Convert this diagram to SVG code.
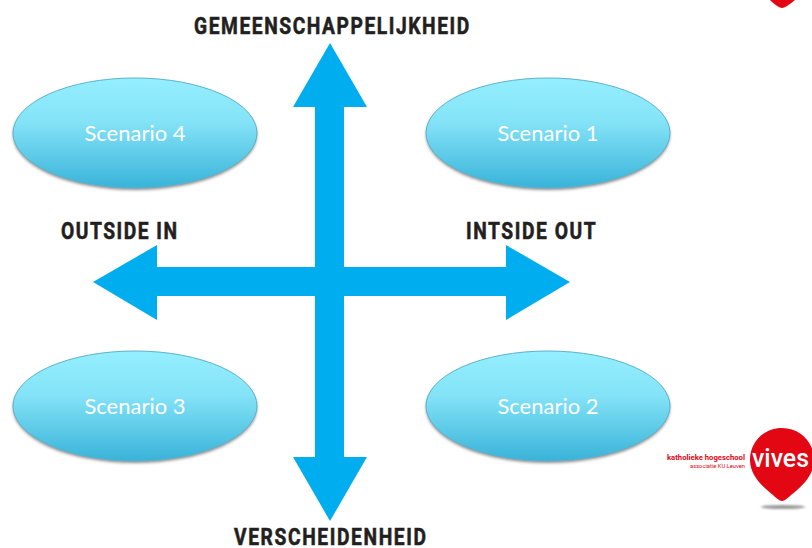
<svg xmlns="http://www.w3.org/2000/svg" width="812" height="548" viewBox="0 0 812 548">
<style>
.axis{font-family:"Roboto","Liberation Sans",sans-serif;font-weight:700;font-size:24px;fill:#231f20;stroke:#231f20;stroke-width:.6}
.sc{font-family:"Lato","Carlito","Open Sans",sans-serif;font-size:22px;fill:#fff;text-anchor:middle}
.oval{fill:url(#g);stroke:#5fb3cc;stroke-width:1}
.shadow{fill:#444;opacity:.6;filter:url(#b)}
.pin{fill:#e30613}
.lg{font-family:"Roboto","Liberation Sans",sans-serif;fill:#e30613;text-anchor:end}
</style>
<defs>
<linearGradient id="g" x1="0" y1="0" x2="0" y2="1">
<stop offset="0" stop-color="#94efff"/>
<stop offset=".4" stop-color="#84e3f7"/>
<stop offset="1" stop-color="#39b3d9"/>
</linearGradient>
<filter id="b" x="-10%" y="-10%" width="120%" height="120%"><feGaussianBlur stdDeviation="1.5"/></filter>
<filter id="b2" x="-30%" y="-200%" width="160%" height="500%"><feGaussianBlur stdDeviation="1.2"/></filter>
</defs>
<rect width="812" height="548" fill="#fff"/>
<g id="connectors" fill="#00aeef">
<polygon id="axis-vertical" points="330,43 367,107 344,107 344,457 367,457 330,521 293,457 315,457 315,107 293,107"/>
<polygon id="axis-horizontal" points="93,282 157,245 157,267 506,267 506,245 570,282 506,320 506,296 157,296 157,320"/>
</g>
<g id="scenario-4"><ellipse class="shadow" cx="135" cy="135" rx="122" ry="55"/><ellipse class="oval" cx="135" cy="133" rx="122" ry="55"/><text class="sc" x="135" y="141">Scenario 4</text></g>
<g id="scenario-1"><ellipse class="shadow" cx="548" cy="135" rx="122" ry="55"/><ellipse class="oval" cx="548" cy="133" rx="122" ry="55"/><text class="sc" x="548" y="141">Scenario 1</text></g>
<g id="scenario-3"><ellipse class="shadow" cx="135" cy="408" rx="122" ry="55"/><ellipse class="oval" cx="135" cy="406" rx="122" ry="55"/><text class="sc" x="135" y="414">Scenario 3</text></g>
<g id="scenario-2"><ellipse class="shadow" cx="548" cy="408" rx="122" ry="55"/><ellipse class="oval" cx="548" cy="406" rx="122" ry="55"/><text class="sc" x="548" y="414">Scenario 2</text></g>
<g id="label-top"><text class="axis" transform="translate(194,34) scale(.8,1)" textLength="344" lengthAdjust="spacing">GEMEENSCHAPPELIJKHEID</text></g>
<g id="label-bottom"><text class="axis" transform="translate(234,545) scale(.8,1)" textLength="240" lengthAdjust="spacing">VERSCHEIDENHEID</text></g>
<g id="label-left"><text class="axis" transform="translate(61,239) scale(.8,1)" textLength="145" lengthAdjust="spacing">OUTSIDE IN</text></g>
<g id="label-right"><text class="axis" transform="translate(466,239) scale(.8,1)" textLength="162" lengthAdjust="spacing">INTSIDE OUT</text></g>
<g id="logo-bottom">
<ellipse cx="783" cy="507" rx="22" ry="2" fill="#999" filter="url(#b2)"/>
<path class="pin" d="M782,428 C800,428 814,442 814,460 C814,476 800,488 791,495 C786,500 783,501 782,501 C781,501 778,500 773,495 C764,488 750,476 750,460 C750,442 764,428 782,428Z"/>
<text x="752" y="467" font-family="Roboto,'Liberation Sans',sans-serif" font-weight="500" font-size="26" fill="#fff" textLength="57" lengthAdjust="spacingAndGlyphs">vives</text>
<text class="lg" x="745" y="460" font-size="7.5" font-weight="700" textLength="78" lengthAdjust="spacingAndGlyphs">katholieke hogeschool</text>
<text class="lg" x="745" y="468" font-size="6" textLength="55" lengthAdjust="spacingAndGlyphs">associatie KU Leuven</text>
</g>
<g id="logo-top">
<path class="pin" d="M770,0 C774,4 779,8 782,8 C785,8 790,4 795,0Z"/>
</g>
</svg>
